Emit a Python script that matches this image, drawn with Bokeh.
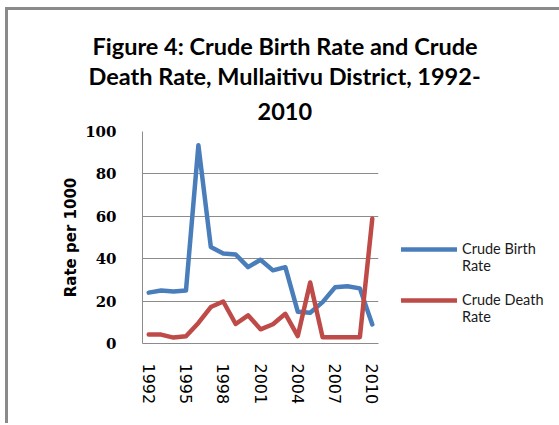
from bokeh.plotting import figure
from bokeh.models import Legend, LegendItem, FixedTicker, Title
from bokeh.embed import file_html
from bokeh.resources import INLINE

# ---- data ----
years = [1992, 1993, 1994, 1995, 1996, 1997, 1998, 1999, 2000, 2001,
         2002, 2003, 2004, 2005, 2006, 2007, 2008, 2009, 2010]
birth_rate = [24, 25, 24.5, 25, 93.5, 45.5, 42.5, 42, 36, 39.5,
              34.5, 36, 15, 14.5, 19.5, 26.5, 27, 26, 9]
death_rate = [4.2, 4.2, 2.8, 3.4, 9.7, 17.2, 19.8, 9.2, 13.3, 6.7,
              9.1, 14, 3.5, 28.8, 3, 3, 3, 3, 58.8]
x_tick_years = [1992, 1995, 1998, 2001, 2004, 2007, 2010]
y_ticks = [0, 20, 40, 60, 80, 100]
title_lines = ["Figure 4: Crude Birth Rate and Crude",
               "Death Rate, Mullaitivu District, 1992-",
               "2010"]
series_names = ["\nCrude Birth\nRate", "\nCrude Death\nRate"]
colors = ["#4a7ebb", "#be4b48"]

p = figure(frame_width=236, frame_height=212, output_backend="svg",
           toolbar_location=None,
           x_range=(years[0] - 0.5, years[-1] + 0.5), y_range=(0, 100),
           min_border_left=134, min_border_right=173,
           min_border_top=121, min_border_bottom=80)
p.styles = {"margin-left": "5px", "margin-top": "7px",
            "border-left": "3px solid #8a8a8a", "border-top": "3px solid #8a8a8a"}
p.outline_line_color = None
p.background_fill_color = "white"
p.border_fill_color = "white"

r1 = p.line(years, birth_rate, line_color=colors[0], line_width=4.5,
            line_join="round", line_cap="round")
r2 = p.line(years, death_rate, line_color=colors[1], line_width=4.5,
            line_join="round", line_cap="round")

# x axis
xa = p.xaxis[0]
xa.ticker = FixedTicker(ticks=x_tick_years)
xa.major_label_orientation = "vertical"
xa.major_tick_line_color = None
xa.minor_tick_line_color = None
xa.axis_line_color = "#8c8c8c"
xa.major_label_text_font = "DejaVu Sans"
xa.major_label_text_font_size = "16px"
xa.major_label_text_color = "#000000"
xa.major_label_standoff = 14

# y axis
ya = p.yaxis[0]
ya.ticker = FixedTicker(ticks=y_ticks)
ya.major_tick_line_color = None
ya.minor_tick_line_color = None
ya.axis_line_color = "#8c8c8c"
ya.major_label_text_font = "DejaVu Serif"
ya.major_label_text_font_style = "bold"
ya.major_label_text_font_size = "15px"
ya.major_label_text_color = "#000000"
ya.major_label_standoff = 20
ya.axis_label = "Rate per 1000"
ya.axis_label_text_font = "DejaVu Sans"
ya.axis_label_text_font_style = "bold"
ya.axis_label_text_font_size = "15px"
ya.axis_label_text_color = "#000000"
ya.axis_label_standoff = 2

p.xgrid.grid_line_color = None
p.ygrid.grid_line_color = "#8c8c8c"
p.ygrid.grid_line_width = 1

# title: three lines, nearest to the frame added first
for line, off, so in zip(reversed(title_lines), [115, -54, -50], [23, 0, 0]):
    p.add_layout(Title(text=line, align="left", offset=off, standoff=so,
                       text_font="Lato", text_font_style="bold",
                       text_font_size="23.5px", text_color="#000000"), "above")

legend = Legend(items=[LegendItem(label=series_names[0], renderers=[r1]),
                       LegendItem(label=series_names[1], renderers=[r2])],
                location=(23, 18), orientation="vertical",
                glyph_width=56, glyph_height=20, label_standoff=5,
                padding=10, spacing=0, margin=0,
                border_line_color=None, background_fill_alpha=0,
                label_text_font="Lato", label_text_font_size="14.5px",
                label_text_color="#1a1a1a", label_text_line_height=1.3)
p.add_layout(legend, "right")

open("out.html", "w").write(file_html(p, INLINE))
